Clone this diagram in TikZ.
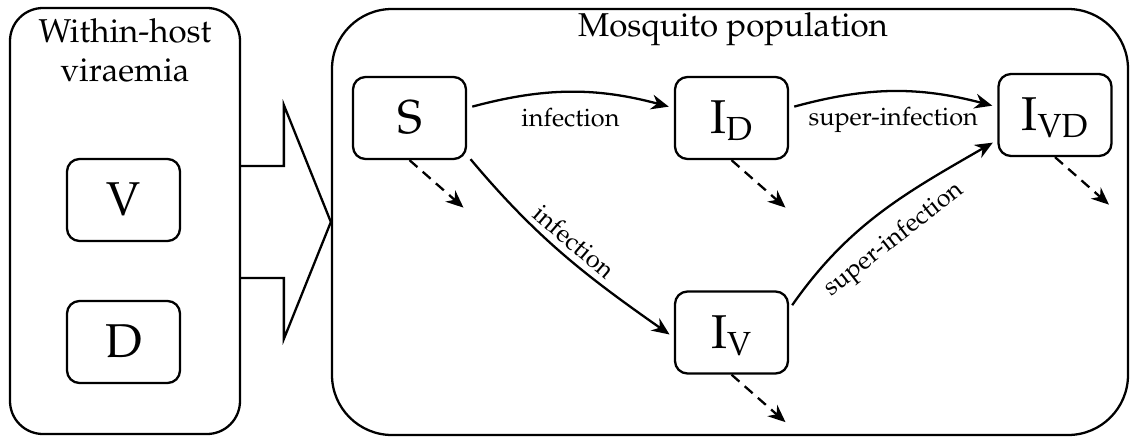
\documentclass[tikz,border=0pt]{standalone}
\usepackage[T1]{fontenc}
\usepackage{mathpazo}
\usepackage{tikz}
\usetikzlibrary{arrows.meta, positioning, calc}
\newcommand{\compsub}[1]{$_{\mbox{\fontsize{19}{22}\selectfont #1}}$}
\tikzset{
    % Box styles
    container/.style={
        rectangle,
        draw,
        line width=1.3pt,
        inner sep=0pt,
        minimum height=8.52cm
    },
    compartment/.style={
        rectangle,
        draw,
        rounded corners=0.25cm,
        line width=1.3pt,
        minimum width=2.26cm,
        minimum height=1.64cm,
        text height=0.62cm,
        text depth=0cm,
        align=center,
        font=\fontsize{27}{32}\selectfont
    },
    heading/.style={
        font=\fontsize{18.8}{22.2}\selectfont,
        align=center,
        inner sep=0pt
    },
    flowlabel/.style={
        font=\Large
    },
    % Arrow styles
    arrow/.style={
        ->,
        >={Stealth[length=10pt,width=8.5pt]},
        line width=1.3pt,
        shorten >=3pt,
        shorten <=3pt
    },
    dashedarrow/.style={
        arrow,
        dash pattern=on 6pt off 4pt,
        shorten <=0pt,
        shorten >=0pt
    },
    blockarrow/.style={
        line width=1.3pt,
        line join=miter
    }
}

\begin{document}
\begin{tikzpicture}
    \useasboundingbox (0,0) rectangle (22.6,-8.74);

    % Containers
    \node[container, rounded corners=0.66cm, minimum width=4.6cm] (host) at (2.5,-4.42) {};
    \node[container, rounded corners=1.2cm, minimum width=15.92cm] (pop) at (14.6,-4.44) {};
    \node[heading, anchor=north] (hosttitle) at (2.5,-0.36) {Within-host\\viraemia};
    \node[heading, anchor=base] (poptitle) at (14.66,-0.72) {Mosquito population};

    % Within-host compartments
    \node[compartment] (V) at (2.47,-4.0) {V};
    \node[compartment] (D) at (2.47,-6.84) {D};

    % Mosquito compartments
    \node[compartment] (S) at (8.19,-2.36) {S};
    \node[compartment] (ID) at (14.63,-2.36) {I\compsub{D}};
    \node[compartment] (IVD) at (21.1,-2.30) {I\compsub{VD}};
    \node[compartment] (IV) at (14.63,-6.65) {I\compsub{V}};

    % Coupling arrow
    \draw[blockarrow] ($(pop.west)+(-1.8,1.12)$) -- ++(0.86,0) -- ++(0,1.22) -- (pop.west)
        -- ++(-0.94,-2.34) -- ++(0,1.22) -- ++(-0.86,0);

    % Infections
    \draw[arrow] ([yshift=0.2cm]S.east) to[bend left=15]
        node[flowlabel, below=0.18cm] (infD) {infection} ([yshift=0.2cm]ID.west);
    \draw[arrow] ([yshift=0.1cm]S.south east) to[out=-50, in=145]
        node[flowlabel, sloped, above] (infV) {infection} ([yshift=-0.1cm]IV.west);
    \draw[arrow] ([yshift=0.2cm]ID.east) to[bend left=15]
        node[flowlabel, below=0.18cm] (supD) {super-infection} ([yshift=0.16cm]IVD.west);
    \draw[arrow] ([yshift=0.46cm]IV.east) to[out=55, in=-150]
        node[flowlabel, sloped, below=0.2cm, pos=0.47] (supV) {super-infection} ([yshift=-0.5cm]IVD.west);

    % Deaths
    \foreach \n in {S,ID,IVD,IV} {
        \coordinate (\n-out) at ([shift={(1.08,-0.95)}]\n.south);
        \draw[dashedarrow] (\n.south) -- (\n-out);
    }
\end{tikzpicture}
\end{document}
